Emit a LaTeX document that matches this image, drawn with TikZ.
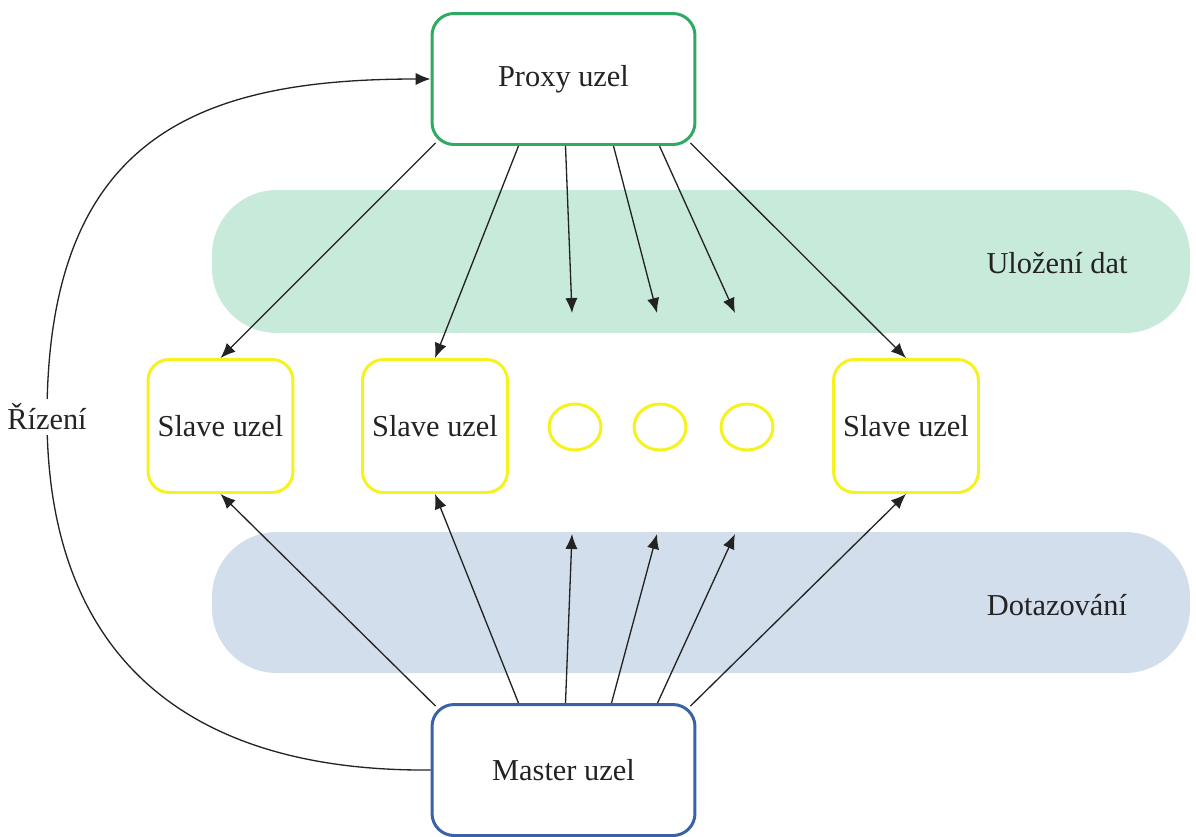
\documentclass[tikz,border=0pt]{standalone}
\usepackage{fontspec}
\setmainfont{Liberation Serif}
\usetikzlibrary{arrows.meta,calc,shapes.geometric}

\definecolor{proxygreen}{RGB}{46,170,98}
\definecolor{masterblue}{RGB}{58,98,166}
\definecolor{slaveyellow}{RGB}{246,242,30}
\definecolor{bandgreen}{RGB}{200,234,218}
\definecolor{bandblue}{RGB}{211,222,236}
\definecolor{ink}{RGB}{35,35,35}

\tikzset{
  txt/.style={text=ink, font=\fontsize{17.3}{20}\selectfont},
  bigbox/.style={txt, draw, line width=1.7pt, fill=white, rounded corners=0.44cm,
                 minimum width=5.26cm, minimum height=2.62cm},
  slavebox/.style={txt, draw=slaveyellow, line width=1.7pt, fill=white, rounded corners=0.42cm,
                   minimum width=2.9cm, minimum height=2.66cm},
  dotnode/.style={ellipse, draw=slaveyellow, line width=1.7pt, fill=white,
                  minimum width=1.04cm, minimum height=0.92cm, inner sep=0pt},
  band/.style={rounded corners=1.3cm},
  arr/.style={-{Latex[length=8.5pt,width=7pt]}, line width=0.75pt, draw=ink},
}

\begin{document}
\begin{tikzpicture}[x=0.02cm,y=-0.02cm]
  \useasboundingbox (0,0) rectangle (1196,836);

  % background layers
  \fill[bandgreen, band] (212,190) rectangle (1190,333);
  \fill[bandblue, band] (212,532) rectangle (1190,673);
  \node[txt] (lstore) at (1057,263) {Uložení dat};
  \node[txt] (lquery) at (1057,605) {Dotazování};

  % nodes
  \node[bigbox, draw=proxygreen] (p) at (563.5,79) {Proxy uzel};
  \node[bigbox, draw=masterblue] (m) at (563.5,770) {Master uzel};
  \node[slavebox] (s1) at (220.5,426) {Slave uzel};
  \node[slavebox] (s2) at (435,426) {Slave uzel};
  \node[slavebox] (s3) at (906,426) {Slave uzel};
  \node[dotnode] (d1) at (575,427) {};
  \node[dotnode] (d2) at (660,427) {};
  \node[dotnode] (d3) at (747,427) {};

  % free ends of the fan arrows
  \coordinate (u1) at (572,313);
  \coordinate (u2) at (657,313);
  \coordinate (u3) at (735,313);
  \coordinate (q1) at (572,534);
  \coordinate (q2) at (657,534);
  \coordinate (q3) at (735,534);

  % proxy -> slaves
  \draw[arr] ($(p.south west)+(5,-3)$) -- (s1.north);
  \draw[arr] ($(p.south)+(-45,0)$) -- (s2.north);
  \draw[arr] ($(p.south)+(2,0)$) -- (u1);
  \draw[arr] ($(p.south)+(50,0)$) -- (u2);
  \draw[arr] ($(p.south)+(96,0)$) -- (u3);
  \draw[arr] ($(p.south east)+(-6,-3)$) -- (s3.north);

  % master -> slaves
  \draw[arr] ($(m.north west)+(5,3)$) -- (s1.south);
  \draw[arr] ($(m.north)+(-45,0)$) -- (s2.south);
  \draw[arr] ($(m.north)+(2,0)$) -- (q1);
  \draw[arr] ($(m.north)+(48,0)$) -- (q2);
  \draw[arr] ($(m.north)+(94,0)$) -- (q3);
  \draw[arr] ($(m.north east)+(-6,3)$) -- (s3.south);

  % control loop
  \draw[arr] (m.west) .. controls (180,772) and (47,650) .. (47,417)
    node[txt, fill=white, inner sep=3pt] (ctl) {Řízení}
    .. controls (47,135) and (200,79) .. (p.west);
\end{tikzpicture}
\end{document}
